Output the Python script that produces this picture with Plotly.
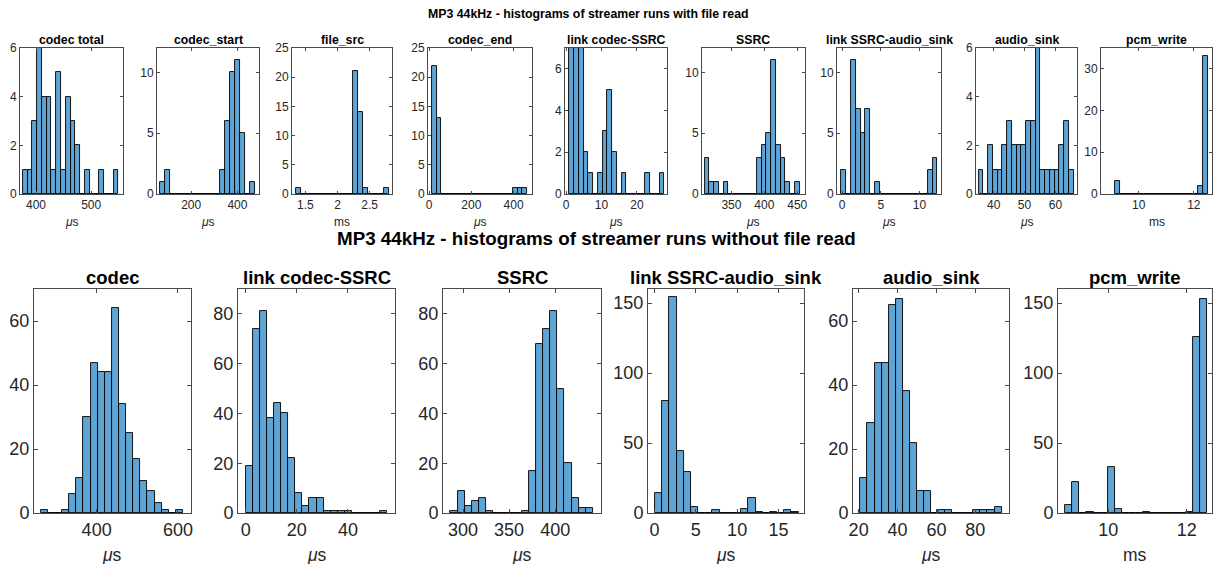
import numpy as np
import plotly.graph_objects as go

# ---------------- DATA ----------------
# Top row: streamer runs WITH file read (38 runs)
top_titles = ["codec total", "codec_start", "file_src", "codec_end", "link codec-SSRC",
              "SSRC", "link SSRC-audio_sink", "audio_sink", "pcm_write"]
top_units = ["<i>μ</i>s", "<i>μ</i>s", "ms", "<i>μ</i>s", "<i>μ</i>s",
             "<i>μ</i>s", "<i>μ</i>s", "<i>μ</i>s", "ms"]

top_codec_total = [1, 1, 3, 6, 4, 4, 1, 5, 1, 4, 3, 2, 0, 1, 0, 0, 1, 0, 0, 1]
top_codec_start = [1, 2, 0, 0, 0, 0, 0, 0, 0, 0, 0, 0, 2, 6, 10, 11, 5, 0, 1]
top_file_src = [1, 0, 0, 0, 0, 0, 0, 0, 0, 0, 0, 21, 14, 1, 0, 0, 0, 1]
top_codec_end = [22, 13, 0, 0, 0, 0, 0, 0, 0, 0, 0, 0, 0, 0, 0, 0, 0, 0, 1, 1, 1]
top_link_codec_ssrc = [7, 7, 7, 2, 1, 0, 1, 3, 5, 2, 0, 1, 0, 0, 0, 0, 1, 0, 0, 1]
top_ssrc = [3, 1, 1, 0, 1, 0, 0, 0, 0, 0, 0, 3, 4, 5, 11, 4, 3, 1, 0, 1]
top_link_ssrc_sink = [2, 0, 11, 7, 5, 7, 0, 1, 0, 0, 0, 0, 0, 0, 0, 0, 0, 0, 2, 3]
top_audio_sink = [1, 0, 2, 1, 1, 2, 3, 2, 2, 2, 3, 3, 6, 1, 1, 1, 1, 2, 3, 1]
top_pcm_write = [3, 0, 0, 0, 0, 0, 0, 0, 0, 0, 0, 0, 0, 0, 0, 0, 0, 2, 33]

# first bin edge and bin width (data units) for each top histogram
top_bin_start = [376, 66, 1.36, 16, 0.94, 309.4, -0.09, 35.14, 9.126]
top_bin_width = [8.67, 21.7, 0.08, 21.3, 1.34, 7.2, 0.62, 1.54, 0.178]

# Bottom row: streamer runs WITHOUT file read (346 runs)
bot_titles = ["codec", "link codec-SSRC", "SSRC", "link SSRC-audio_sink", "audio_sink", "pcm_write"]
bot_units = ["<i>μ</i>s", "<i>μ</i>s", "<i>μ</i>s", "<i>μ</i>s", "<i>μ</i>s", "ms"]

bot_codec = [1, 0, 0, 1, 6, 11, 30, 47, 44, 44, 64, 34, 25, 17, 10, 7, 3, 1, 0, 1]
bot_link_codec_ssrc = [19, 74, 81, 38, 44, 40, 22, 8, 3, 6, 6, 1, 1, 1, 1, 0, 0, 0, 0, 1]
bot_ssrc = [1, 9, 3, 5, 6, 1, 0, 0, 0, 0, 1, 17, 68, 74, 81, 50, 20, 6, 2, 2]
bot_link_ssrc_sink = [14, 80, 154, 44, 29, 4, 0, 0, 2, 0, 0, 0, 3, 11, 1, 0, 1, 0, 2, 1]
bot_audio_sink = [11, 28, 47, 47, 65, 67, 38, 22, 7, 7, 0, 1, 1, 0, 0, 0, 1, 1, 1, 2]
bot_pcm_write = [6, 22, 0, 1, 0, 0, 33, 3, 0, 0, 0, 1, 0, 0, 0, 0, 0, 1, 126, 153]

bot_bin_start = [262.5, 0.0, 286.3, 0.05, 20.9, 8.90]
bot_bin_width = [17.5, 2.77, 7.74, 0.87, 3.63, 0.1807]

# tick labels
top_xticks = [[400, 500], [200, 400], [1.5, 2, 2.5], [0, 200, 400], [0, 10, 20],
              [350, 400, 450], [0, 5, 10], [40, 50, 60], [10, 12]]
top_yticks = [[0, 2, 4, 6], [0, 5, 10], [0, 5, 10, 15, 20, 25], [0, 5, 10, 15, 20, 25],
              [0, 2, 4, 6], [0, 5, 10], [0, 5, 10], [0, 2, 4, 6], [0, 10, 20, 30]]
bot_xticks = [[400, 600], [0, 20, 40], [300, 350, 400], [0, 5, 10, 15], [20, 40, 60, 80], [10, 12]]
bot_yticks = [[0, 20, 40, 60], [0, 20, 40, 60, 80], [0, 20, 40, 60, 80],
              [0, 50, 100, 150], [0, 20, 40, 60], [0, 50, 100, 150]]

main_title_top = "MP3 44kHz - histograms of streamer runs with file read"
main_title_bot = "MP3 44kHz - histograms of streamer runs without file read"

# ---------------- LAYOUT (pixels) ----------------
W, H = 1213, 564
top_counts = [top_codec_total, top_codec_start, top_file_src, top_codec_end, top_link_codec_ssrc,
              top_ssrc, top_link_ssrc_sink, top_audio_sink, top_pcm_write]
bot_counts = [bot_codec, bot_link_codec_ssrc, bot_ssrc, bot_link_ssrc_sink, bot_audio_sink, bot_pcm_write]

top_px = [(20, 123), (157, 259), (292, 392), (428, 532), (565, 667),
          (702, 805), (837, 941), (976, 1077), (1101, 1212)]
top_xrange = [(371, 557.7), (52, 493.5), (1.293, 2.847), (-5, 487), (-0.3, 28.5),
              (305.3, 461.7), (-0.65, 12.77), (34.27, 67.0), (8.63, 12.66)]
top_yrange = [6, 12, 25, 25, 7, 12, 12, 6, 35]
top_y = (48, 194)

bot_px = [(34, 191), (238, 395), (443, 601), (648, 804), (853, 1009), (1058, 1212)]
bot_xrange = [(246, 632), (-3, 58.4), (278.2, 449.8), (-0.8, 18.1), (17.1, 97.3), (8.717, 12.645)]
bot_yrange = [70, 90, 90, 160, 70, 160]
bot_y = (289, 513)

FONT = "Liberation Sans"
BAR_COLOR = "rgb(94,164,213)"
AX_COLOR = "#4a4a4a"
TXT_COLOR = "#262626"

fig = go.Figure()
layout = dict(width=W, height=H, margin=dict(l=0, r=0, t=0, b=0, pad=0), autosize=False,
              template="none",
              paper_bgcolor="white", plot_bgcolor="white", showlegend=False, bargap=0)
annotations = []


def add_panel(idx, counts, start, width, px, yr_px, xr, ymax, xt, yt, title, unit,
              tick_size, title_size, label_size, title_y, label_y, ticklen):
    n = len(counts)
    centers = start + width * (np.arange(n) + 0.5)
    xa = "x" if idx == 1 else f"x{idx}"
    ya = "y" if idx == 1 else f"y{idx}"
    fig.add_trace(go.Bar(x=centers, y=counts, width=width, xaxis=xa, yaxis=ya,
                         marker=dict(color=BAR_COLOR, line=dict(color="black", width=0.9)),
                         hoverinfo="skip"))
    common = dict(showgrid=False, zeroline=False, showline=True, mirror="ticks",
                  linecolor=AX_COLOR, linewidth=1, ticks="inside", ticklen=ticklen,
                  tickcolor=AX_COLOR, tickwidth=1, automargin=False,
                  tickfont=dict(family=FONT, size=tick_size, color=TXT_COLOR), fixedrange=True)
    layout[f"xaxis{'' if idx == 1 else idx}"] = dict(
        domain=[px[0] / W, px[1] / W], range=list(xr), anchor=ya,
        tickmode="array", tickvals=xt, ticktext=[str(v) for v in xt], **common)
    layout[f"yaxis{'' if idx == 1 else idx}"] = dict(
        domain=[1 - yr_px[1] / H, 1 - yr_px[0] / H], range=[0, ymax], anchor=xa,
        tickmode="array", tickvals=yt, ticktext=[str(v) for v in yt], **common)
    cx = (px[0] + px[1]) / 2 / W
    annotations.append(dict(x=cx, y=1 - title_y / H, xref="paper", yref="paper",
                            text=f"<b>{title}</b>", showarrow=False, xanchor="center",
                            yanchor="middle", font=dict(family=FONT, size=title_size, color="black")))
    annotations.append(dict(x=cx, y=1 - label_y / H, xref="paper", yref="paper",
                            text=unit, showarrow=False, xanchor="center", yanchor="middle",
                            font=dict(family=FONT, size=label_size, color=TXT_COLOR)))


for i in range(9):
    add_panel(i + 1, top_counts[i], top_bin_start[i], top_bin_width[i], top_px[i], top_y,
              top_xrange[i], top_yrange[i], top_xticks[i], top_yticks[i], top_titles[i],
              top_units[i], 12, 12.3, 12, 39.5, 222, 3)

for j in range(6):
    add_panel(10 + j, bot_counts[j], bot_bin_start[j], bot_bin_width[j], bot_px[j], bot_y,
              bot_xrange[j], bot_yrange[j], bot_xticks[j], bot_yticks[j], bot_titles[j],
              bot_units[j], 18, 18.5, 17.5, 277, 555, 4)

annotations.append(dict(x=588.5 / W, y=1 - 14 / H, xref="paper", yref="paper",
                        text=f"<b>{main_title_top}</b>", showarrow=False, xanchor="center",
                        yanchor="middle", font=dict(family=FONT, size=12.3, color="black")))
annotations.append(dict(x=596.5 / W, y=1 - 238 / H, xref="paper", yref="paper",
                        text=f"<b>{main_title_bot}</b>", showarrow=False, xanchor="center",
                        yanchor="middle", font=dict(family=FONT, size=18.8, color="black")))

layout["annotations"] = annotations
fig.update_layout(**layout)
fig.write_html("out.html", config={"displayModeBar": False},
               post_script="document.body.style.margin='0';document.body.style.overflow='hidden';")
